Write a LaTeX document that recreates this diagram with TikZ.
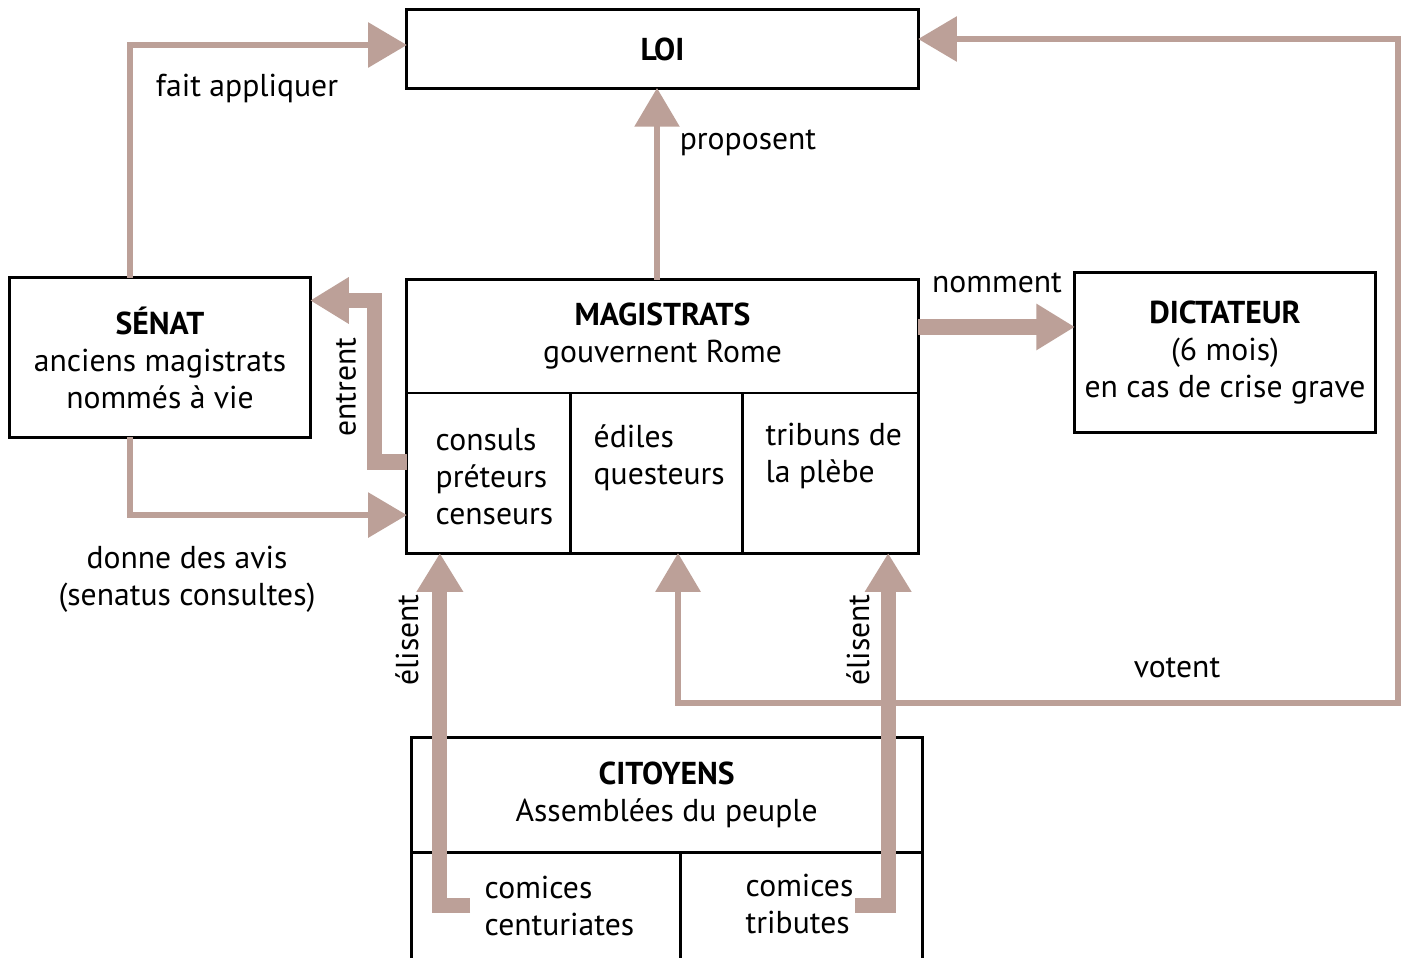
\documentclass[tikz,border=0pt]{standalone}
\usepackage{fontspec}
\setmainfont{PT Sans}
\usetikzlibrary{positioning,calc,arrows.meta}
\definecolor{fleche}{RGB}{188,160,152}
\tikzset{
  tete/.tip={Triangle[width=12.5pt,length=11pt]},
  cadre/.style={draw, line width=0.85pt, inner sep=0pt, outer sep=0pt},
  txt/.style={font=\fontsize{9}{10.5}\selectfont, align=center, inner sep=0pt},
  fin/.style={draw=fleche, line width=1.7pt, line join=miter, -tete},
  gros/.style={draw=fleche, line width=4.3pt, line join=miter, -tete},
}

\begin{document}
\begin{tikzpicture}[x=0.01cm, y=-0.01cm]
  \useasboundingbox[fill=white] (0,0) rectangle (1407,957);

  % boites
  \node[cadre, txt, minimum width=5.11cm, minimum height=0.78cm] (loi) at (662.5,49) {\textbf{LOI}};
  \node[cadre, txt, minimum width=3cm, minimum height=1.59cm] (senat) at (160,357.5)
    {\textbf{SÉNAT}\\anciens magistrats\\nommés à vie};
  \node[cadre, txt, minimum width=3cm, minimum height=1.59cm] (dict) at (1225,352.5)
    {\textbf{DICTATEUR}\\(6 mois)\\en cas de crise grave};

  \node[cadre, minimum width=5.11cm, minimum height=2.73cm] (mag) at (662.5,416.5) {};
  \node[cadre, txt, minimum width=5.11cm, minimum height=1.13cm, anchor=north] (maghaut) at (mag.north)
    {\textbf{MAGISTRATS}\\gouvernent Rome};
  \node[cadre, minimum width=1.64cm, minimum height=1.6cm, anchor=north west] (consuls) at (maghaut.south west) {};
  \node[cadre, minimum width=1.71cm, minimum height=1.6cm, anchor=north west] (ediles) at (consuls.north east) {};
  \node[cadre, minimum width=1.76cm, minimum height=1.6cm, anchor=north west] (tribuns) at (ediles.north east) {};
  \node[txt, align=left, anchor=west] (consulstxt) at (435,477) {consuls\\préteurs\\censeurs};
  \node[txt, align=left, anchor=west] (edilestxt) at (593,458) {édiles\\questeurs};
  \node[txt, align=left, anchor=west] (tribunstxt) at (765,456) {tribuns de\\la plèbe};

  \node[cadre, txt, minimum width=5.11cm, minimum height=1.15cm, anchor=north west] (cit) at (411,737)
    {\textbf{CITOYENS}\\Assemblées du peuple};
  \node[cadre, minimum width=2.69cm, minimum height=1.3cm, anchor=north west] (centur) at (cit.south west) {};
  \node[cadre, minimum width=2.42cm, minimum height=1.3cm, anchor=north west] (trib) at (centur.north east) {};
  \node[txt, align=left, anchor=west] (centurtxt) at (484,905.5) {comices\\centuriates};
  \node[txt, align=left, anchor=west] (tribtxt) at (745,903.5) {comices\\tributes};

  \coordinate (vcoin) at (1398,703);

  % fleches
  \draw[fin] ($(senat.north west)!0.4!(senat.north east)$) |- ([yshift=0.04cm]loi.west);
  \draw[fin] ($(senat.south west)!0.4!(senat.south east)$) |- ([yshift=0.38cm]mag.south west);
  \draw[fin] ([xshift=-0.055cm]mag.north) coordinate (prop) -- (prop |- loi.south);
  \draw[fin, tete-tete] ([xshift=0.155cm]mag.south) |- (vcoin) |- ([yshift=0.1cm]loi.east);
  \draw[gros] ([yshift=-0.455cm]mag.west) -- ++(-32,0) |- ([yshift=0.57cm]senat.east);
  \draw[gros] ([yshift=0.895cm]mag.east) coordinate (nom) -- (nom -| dict.west);
  \draw[gros] ([shift={(59,53)}]centur.north west) -| ([xshift=0.33cm]mag.south west);
  \draw[gros] ([shift={(175,53)}]trib.north west) -| ([xshift=-0.3cm]mag.south east);

  % etiquettes
  \node[txt] (lfait) at (247,88) {fait appliquer};
  \node[txt] (lprop) at (748,143) {proposent};
  \node[txt] (lnom) at (997,283) {nomment};
  \node[txt, rotate=90] (lentr) at (346,387) {entrent};
  \node[txt] (lavis) at (187,579) {donne des avis\\(senatus consultes)};
  \node[txt, rotate=90] (lelis1) at (407,640) {élisent};
  \node[txt, rotate=90] (lelis2) at (858,640) {élisent};
  \node[txt] (lvot) at (1177,668) {votent};
\end{tikzpicture}
\end{document}
